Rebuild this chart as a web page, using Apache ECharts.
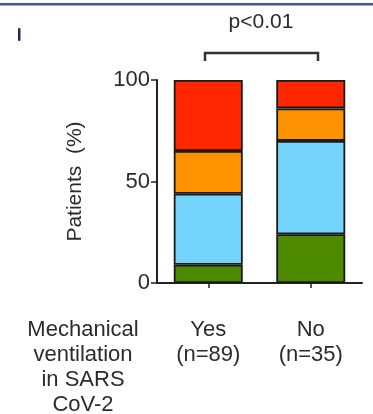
<!DOCTYPE html>
<html>
<head>
<meta charset="utf-8">
<script src="https://cdn.jsdelivr.net/npm/echarts@6/dist/echarts.min.js"></script>
<style>
html,body{margin:0;padding:0;background:#fff;}
#c{width:373px;height:414px;}
</style>
</head>
<body>
<div id="c"></div>
<script>
// Data
const categories = ['Yes\n(n=89)', 'No\n(n=35)'];
const seriesNames = ['Green', 'Blue', 'Orange', 'Red'];
const greenVals = [9, 24];
const blueVals = [35, 46];
const orangeVals = [21, 16];
const redVals = [35, 14];
const yTicks = [0, 50, 100];
const groupLabel = 'Mechanical\nventilation\nin SARS\nCoV-2';
const pLabel = 'p<0.01';
const yName = 'Patients  (%)';

const colors = ['#4e8a00', '#74d4fc', '#ff9200', '#ff2600'];
const valueSets = [greenVals, blueVals, orangeVals, redVals];

const FONT = 'Liberation Sans, Arial, sans-serif';
const TXT = '#2b2b2b';
const chart = echarts.init(document.getElementById('c'), null, {renderer: 'canvas'});

const series = valueSets.map((vals, i) => ({
  name: seriesNames[i],
  type: 'bar',
  stack: 'total',
  data: vals,
  barWidth: 69,
  itemStyle: {color: colors[i], borderColor: '#1a1a1a', borderWidth: 1.8},
  emphasis: {disabled: true}
}));

chart.setOption({
  animation: false,
  backgroundColor: '#ffffff',
  grid: {left: 157, right: 11, top: 80, bottom: 131, containLabel: false},
  xAxis: {
    type: 'category',
    data: categories,
    axisLine: {lineStyle: {color: '#222', width: 2}},
    axisTick: {show: true, alignWithLabel: true, length: 5, lineStyle: {color: '#222', width: 1.5}},
    axisLabel: {color: TXT, fontSize: 22, fontFamily: FONT, lineHeight: 25, margin: 34, interval: 0}
  },
  yAxis: {
    type: 'value',
    min: 0, max: 100, interval: 50,
    name: yName,
    nameLocation: 'middle',
    nameGap: 71,
    nameTextStyle: {color: TXT, fontSize: 21, fontFamily: FONT},
    axisLine: {show: true, lineStyle: {color: '#222', width: 2}},
    axisTick: {show: true, length: 6, lineStyle: {color: '#222', width: 1.5}},
    axisLabel: {color: TXT, fontSize: 22, fontFamily: FONT, margin: 7,
      formatter: v => yTicks.includes(v) ? String(v) : ''},
    splitLine: {show: false}
  },
  series: series,
  graphic: [
    {type: 'rect', left: 0, top: 3, shape: {width: 373, height: 2.5}, style: {fill: '#3d5a98'}, silent: true},
    {type: 'rect', left: 18, top: 28, shape: {width: 2.5, height: 13, r: 1}, style: {fill: '#1c2b5e'}, silent: true},
    {type: 'text', x: 261, y: 22, style: {text: pLabel, fill: TXT, font: '21px ' + FONT, textAlign: 'center', textVerticalAlign: 'middle'}},
    {type: 'polyline', shape: {points: [[205, 61], [205, 53], [318, 53], [318, 61]]}, style: {stroke: '#333', lineWidth: 2.5, fill: null}},
    {type: 'text', x: 83, y: 317, style: {text: groupLabel, fill: TXT, font: '22px ' + FONT, lineHeight: 25, textAlign: 'center', textVerticalAlign: 'top'}}
  ]
});
</script>
</body>
</html>
